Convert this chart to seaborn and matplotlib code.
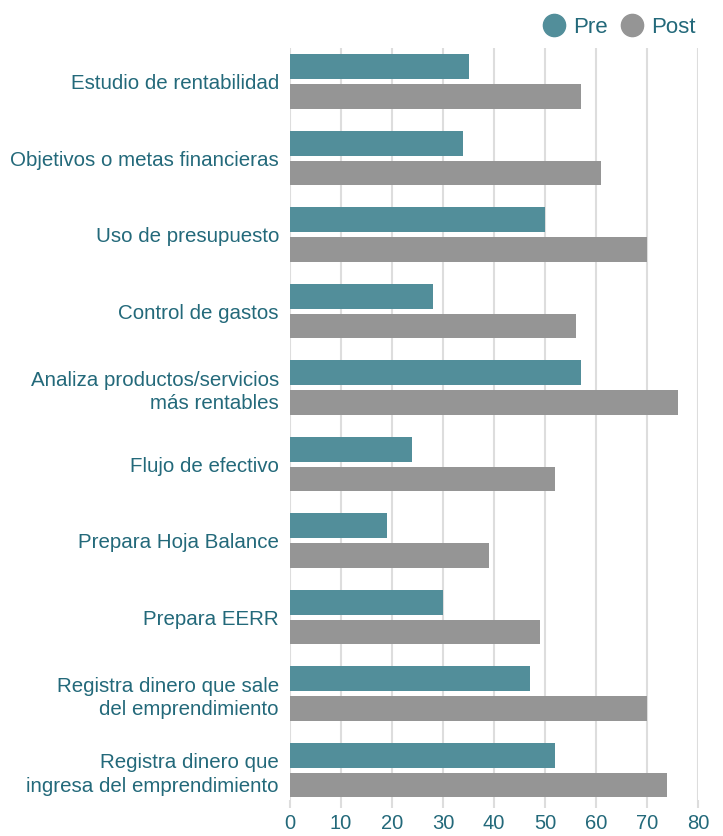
import matplotlib.pyplot as plt
import pandas as pd
import seaborn as sns
from matplotlib.lines import Line2D

categorias = [
    "Estudio de rentabilidad",
    "Objetivos o metas financieras",
    "Uso de presupuesto",
    "Control de gastos",
    "Analiza productos/servicios\nmás rentables",
    "Flujo de efectivo",
    "Prepara Hoja Balance",
    "Prepara EERR",
    "Registra dinero que sale\ndel emprendimiento",
    "Registra dinero que\ningresa del emprendimiento",
]

pre = [35, 34, 50, 28, 57, 24, 19, 30, 47, 52]
post = [57, 61, 70, 56, 76, 52, 39, 49, 70, 74]

momentos = ["Pre", "Post"]
colores = {"Pre": "#528e9a", "Post": "#959595"}
texto = "#23697a"

df = pd.DataFrame({
    "categoria": categorias,
    "Pre": pre,
    "Post": post,
}).melt(id_vars="categoria", var_name="momento", value_name="valor")

sns.set_style("white")
plt.rcParams["font.family"] = ["Liberation Sans", "DejaVu Sans"]

fig = plt.figure(figsize=(7.23, 8.36), dpi=100)
ax = fig.add_axes([290 / 723, 36 / 836, 408 / 723, 752 / 836])

sns.barplot(
    data=df,
    y="categoria",
    x="valor",
    hue="momento",
    hue_order=momentos,
    palette=colores,
    orient="h",
    width=0.78,
    gap=0.17,
    saturation=1,
    linewidth=0,
    legend=False,
    ax=ax,
)

ax.set_xlim(0, 80)
ax.set_ylim(9.39, -0.44)
ax.set_xticks(range(0, 81, 10))
ax.xaxis.grid(True, color="#dddddd", linewidth=1.5)
ax.set_axisbelow(True)
for s in ax.spines.values():
    s.set_visible(False)

ax.set_xlabel("")
ax.set_ylabel("")
ax.tick_params(axis="x", colors="#dddddd", labelcolor=texto, labelsize=14.5,
               length=6, width=1.5, bottom=True, pad=4)
ax.tick_params(axis="y", labelcolor=texto, labelsize=14.8, length=0, pad=8)
for lbl in ax.get_yticklabels():
    lbl.set_linespacing(1.3)

handles = [
    Line2D([], [], marker="o", linestyle="", markersize=16,
           markerfacecolor=colores[m], markeredgecolor=colores[m], label=m)
    for m in momentos
]
fig.legend(
    handles=handles,
    loc="upper right",
    bbox_to_anchor=(716 / 723, 1.004),
    ncol=2,
    frameon=False,
    fontsize=16,
    labelcolor=texto,
    handletextpad=0.3,
    columnspacing=0.45,
    handlelength=1.2,
)

fig.savefig("out.png", dpi=100)
